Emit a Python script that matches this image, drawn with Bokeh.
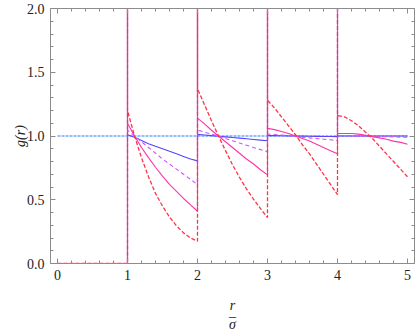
from bokeh.plotting import figure
from bokeh.models import LinearAxis, Range1d, FixedTicker, NumeralTickFormatter
from bokeh.embed import file_html
from bokeh.resources import INLINE

# r/sigma offsets inside each shell segment [n, n+1]
OFFSETS = [0.0, 0.1, 0.2, 0.3, 0.4, 0.5, 0.6, 0.7, 0.8, 0.9, 1.0]
SEG_STARTS = [1, 2, 3, 4]
SPIKE_TOP = 3.0  # delta peaks drawn off the top of the frame

# g(r), one list of 11 values per segment
red_segs = [
    [1.20, 1.00, 0.83, 0.68, 0.55, 0.45, 0.365, 0.295, 0.24, 0.20, 0.175],
    [1.37, 1.245, 1.12, 1.00, 0.885, 0.775, 0.675, 0.585, 0.505, 0.43, 0.36],
    [1.28, 1.22, 1.15, 1.08, 1.01, 0.93, 0.86, 0.78, 0.70, 0.62, 0.54],
    [1.16, 1.15, 1.12, 1.08, 1.03, 0.98, 0.92, 0.86, 0.80, 0.74, 0.68],
]
magenta_segs = [
    [1.10, 1.00, 0.91, 0.83, 0.755, 0.685, 0.62, 0.565, 0.51, 0.46, 0.41],
    [1.14, 1.095, 1.045, 1.00, 0.955, 0.91, 0.865, 0.82, 0.78, 0.735, 0.695],
    [1.06, 1.05, 1.035, 1.02, 1.00, 0.98, 0.96, 0.935, 0.91, 0.885, 0.86],
    [1.02, 1.02, 1.02, 1.015, 1.005, 0.995, 0.985, 0.975, 0.96, 0.95, 0.935],
]
purple_segs = [
    [1.045, 1.00, 0.955, 0.91, 0.865, 0.82, 0.78, 0.74, 0.70, 0.66, 0.62],
    [1.047, 1.03, 1.015, 1.00, 0.98, 0.963, 0.945, 0.928, 0.91, 0.893, 0.877],
    [1.015, 1.012, 1.008, 1.003, 0.998, 0.99, 0.985, 0.98, 0.975, 0.97, 0.965],
    [1.003, 1.003, 1.002, 1.00, 0.999, 0.997, 0.995, 0.994, 0.993, 0.991, 0.99],
]
blue_segs = [
    [1.01, 0.99, 0.965, 0.94, 0.92, 0.90, 0.88, 0.86, 0.84, 0.82, 0.805],
    [1.013, 1.008, 1.003, 0.998, 0.993, 0.988, 0.983, 0.978, 0.973, 0.968, 0.963],
    [1.003, 1.003, 1.002, 1.001, 1.000, 0.999, 0.998, 0.997, 0.996, 0.996, 0.995],
    [1.000, 1.000, 1.000, 1.000, 1.000, 1.000, 1.000, 1.000, 1.000, 1.000, 1.000],
]
ideal_x = [0.0, 5.0]
ideal_y = [1.0, 1.0]

x_tick_values = [0, 1, 2, 3, 4, 5]
y_tick_values = [0.0, 0.5, 1.0, 1.5, 2.0]


def build(segs):
    xs = [0.0, 1.0]
    ys = [0.0, 0.0]
    for n, seg in zip(SEG_STARTS, segs):
        xs.append(n)
        ys.append(SPIKE_TOP)
        for off, v in zip(OFFSETS, seg):
            xs.append(n + off)
            ys.append(v)
    return xs, ys


p = figure(width=415, height=334, x_range=Range1d(-0.1, 5.1), y_range=Range1d(0, 2),
           output_backend="svg", toolbar_location=None,
           min_border_left=50, min_border_right=1, min_border_top=8, min_border_bottom=70)
p.xgrid.visible = False
p.ygrid.visible = False
p.outline_line_color = None
p.background_fill_color = "white"
p.border_fill_color = "white"

p.line(ideal_x, ideal_y, line_color="#2f7fff", line_width=1.2, line_dash="3 1")
for segs, color, dash, lw in [
    (blue_segs, "#5544ff", "solid", 1.1),
    (purple_segs, "#cc55ff", "4 3", 1.1),
    (magenta_segs, "#ff33aa", "solid", 1.1),
    (red_segs, "#ff3344", "4 2", 1.3),
]:
    xs, ys = build(segs)
    p.line(xs, ys, line_color=color, line_dash=dash, line_width=lw)

x_minor = [i * 0.2 for i in range(0, 26)]
y_minor = [i * 0.1 for i in range(0, 21)]
GRAY = "#8c8c8c"
SERIF = "Liberation Serif"
INK = "#222222"


def style(ax, ticks, minor, fmt, show):
    ax.ticker = FixedTicker(ticks=ticks, minor_ticks=minor)
    ax.formatter = NumeralTickFormatter(format=fmt)
    ax.axis_line_color = GRAY
    ax.major_tick_line_color = GRAY
    ax.minor_tick_line_color = GRAY
    ax.major_tick_in = 5
    ax.major_tick_out = 0
    ax.minor_tick_in = 3
    ax.minor_tick_out = 0
    ax.major_label_text_font = SERIF
    if show:
        ax.major_label_text_font_size = "14px"
        ax.major_label_standoff = 6
        ax.major_label_text_color = INK
    else:
        ax.major_label_text_font_size = "0px"
        ax.major_label_standoff = 0


def label_style(ax, text, standoff, size="14px"):
    ax.axis_label = text
    ax.axis_label_text_font = SERIF
    ax.axis_label_text_font_style = "italic"
    ax.axis_label_text_font_size = size
    ax.axis_label_text_color = INK
    ax.axis_label_standoff = standoff


style(p.xaxis[0], x_tick_values, x_minor, "0", True)
style(p.yaxis[0], y_tick_values, y_minor, "0.0", True)
label_style(p.xaxis[0], "r", 15)
label_style(p.yaxis[0], "g(r)", -4)

top_ax = LinearAxis()
right_ax = LinearAxis()
style(top_ax, x_tick_values, x_minor, "0", False)
style(right_ax, y_tick_values, y_minor, "0.0", False)
p.add_layout(top_ax, "above")
p.add_layout(right_ax, "right")

# fraction bar and denominator of the x label (r / sigma)
for text, standoff in [("–", -7), ("σ", -10)]:
    ax = LinearAxis(ticker=FixedTicker(ticks=[], minor_ticks=[]))
    ax.axis_line_color = None
    ax.major_tick_line_color = None
    ax.minor_tick_line_color = None
    ax.major_label_text_font_size = "0px"
    ax.major_label_standoff = 0
    ax.major_tick_out = 0
    ax.minor_tick_out = 0
    label_style(ax, text, standoff)
    ax.axis_label_text_font_style = "normal" if text == "–" else "italic"
    p.add_layout(ax, "below")

open("out.html", "w").write(file_html(p, INLINE))
